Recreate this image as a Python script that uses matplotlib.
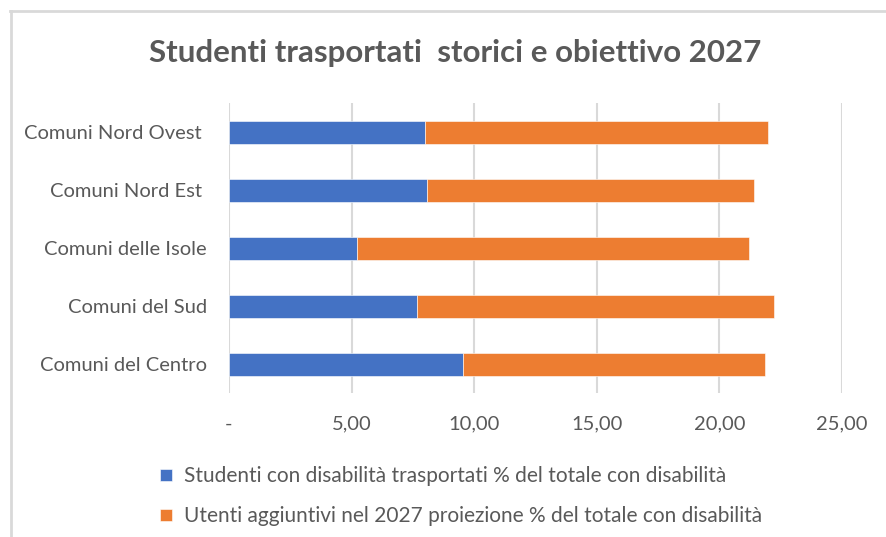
import matplotlib.pyplot as plt
from matplotlib.lines import Line2D
from matplotlib.ticker import FuncFormatter

# data (top to bottom as shown)
categories = ["Comuni Nord Ovest ", "Comuni Nord Est ", "Comuni delle Isole",
              "Comuni del Sud", "Comuni del Centro"]
studenti = [8.01, 8.07, 5.21, 7.67, 9.56]
aggiuntivi = [13.98, 13.34, 16.01, 14.57, 12.30]
series_names = ["Studenti con disabilità trasportati % del totale con disabilità",
                "Utenti aggiuntivi nel 2027 proiezione % del totale con disabilità"]
title = "Studenti trasportati  storici e obiettivo 2027"

BLUE = "#4472C4"
ORANGE = "#ED7D31"
TXT = "#595959"
GRID = "#D9D9D9"

plt.rcParams['font.family'] = ['Lato', 'DejaVu Sans']

W, H = 886, 537
fig = plt.figure(figsize=(W / 100, H / 100), dpi=100)
ax = fig.add_axes([229 / W, 1 - 393.3 / H, (842 - 229) / W, 290 / H])

# reverse so the first category sits on top
y = list(range(len(categories)))[::-1]
ax.barh(y, studenti, height=0.4, color=BLUE, edgecolor="white", linewidth=0.4,
        label=series_names[0], zorder=3)
ax.barh(y, aggiuntivi, left=studenti, height=0.4, color=ORANGE, edgecolor="white",
        linewidth=0.4, label=series_names[1], zorder=3)

ax.set_xlim(0, 25)
ax.set_ylim(-0.5, len(categories) - 0.5)
ax.set_xticks([0, 5, 10, 15, 20, 25])
ax.xaxis.set_major_formatter(FuncFormatter(
    lambda v, p: "-" if v == 0 else f"{v:.2f}".replace(".", ",")))
ax.set_yticks(y)
ax.set_yticklabels(categories)

ax.grid(axis="x", color=GRID, linewidth=1.5, zorder=0)
for s in ax.spines.values():
    s.set_visible(False)
ax.tick_params(axis="both", length=0, labelsize=14.5, labelcolor=TXT)
ax.tick_params(axis="y", pad=16)
ax.tick_params(axis="x", pad=16)

fig.text(455 / W, 1 - 53 / H, title, ha="center", va="center",
         fontsize=22.5, fontweight="bold", color=TXT)

leg = fig.legend(loc="upper left", bbox_to_anchor=(150 / W, 1 - 456 / H),
                 frameon=False, fontsize=15, labelcolor=TXT,
                 handlelength=0.55, handleheight=0.55, handletextpad=0.6,
                 labelspacing=0.95, borderpad=0)

# chart frame (only top and left edges are inside the screenshot)
fig.add_artist(Line2D([10 / W, 1], [1 - 11 / H, 1 - 11 / H], color=GRID, linewidth=2))
fig.add_artist(Line2D([11 / W, 11 / W], [0, 1 - 11 / H], color=GRID, linewidth=2))

fig.savefig("out.png", dpi=100)
